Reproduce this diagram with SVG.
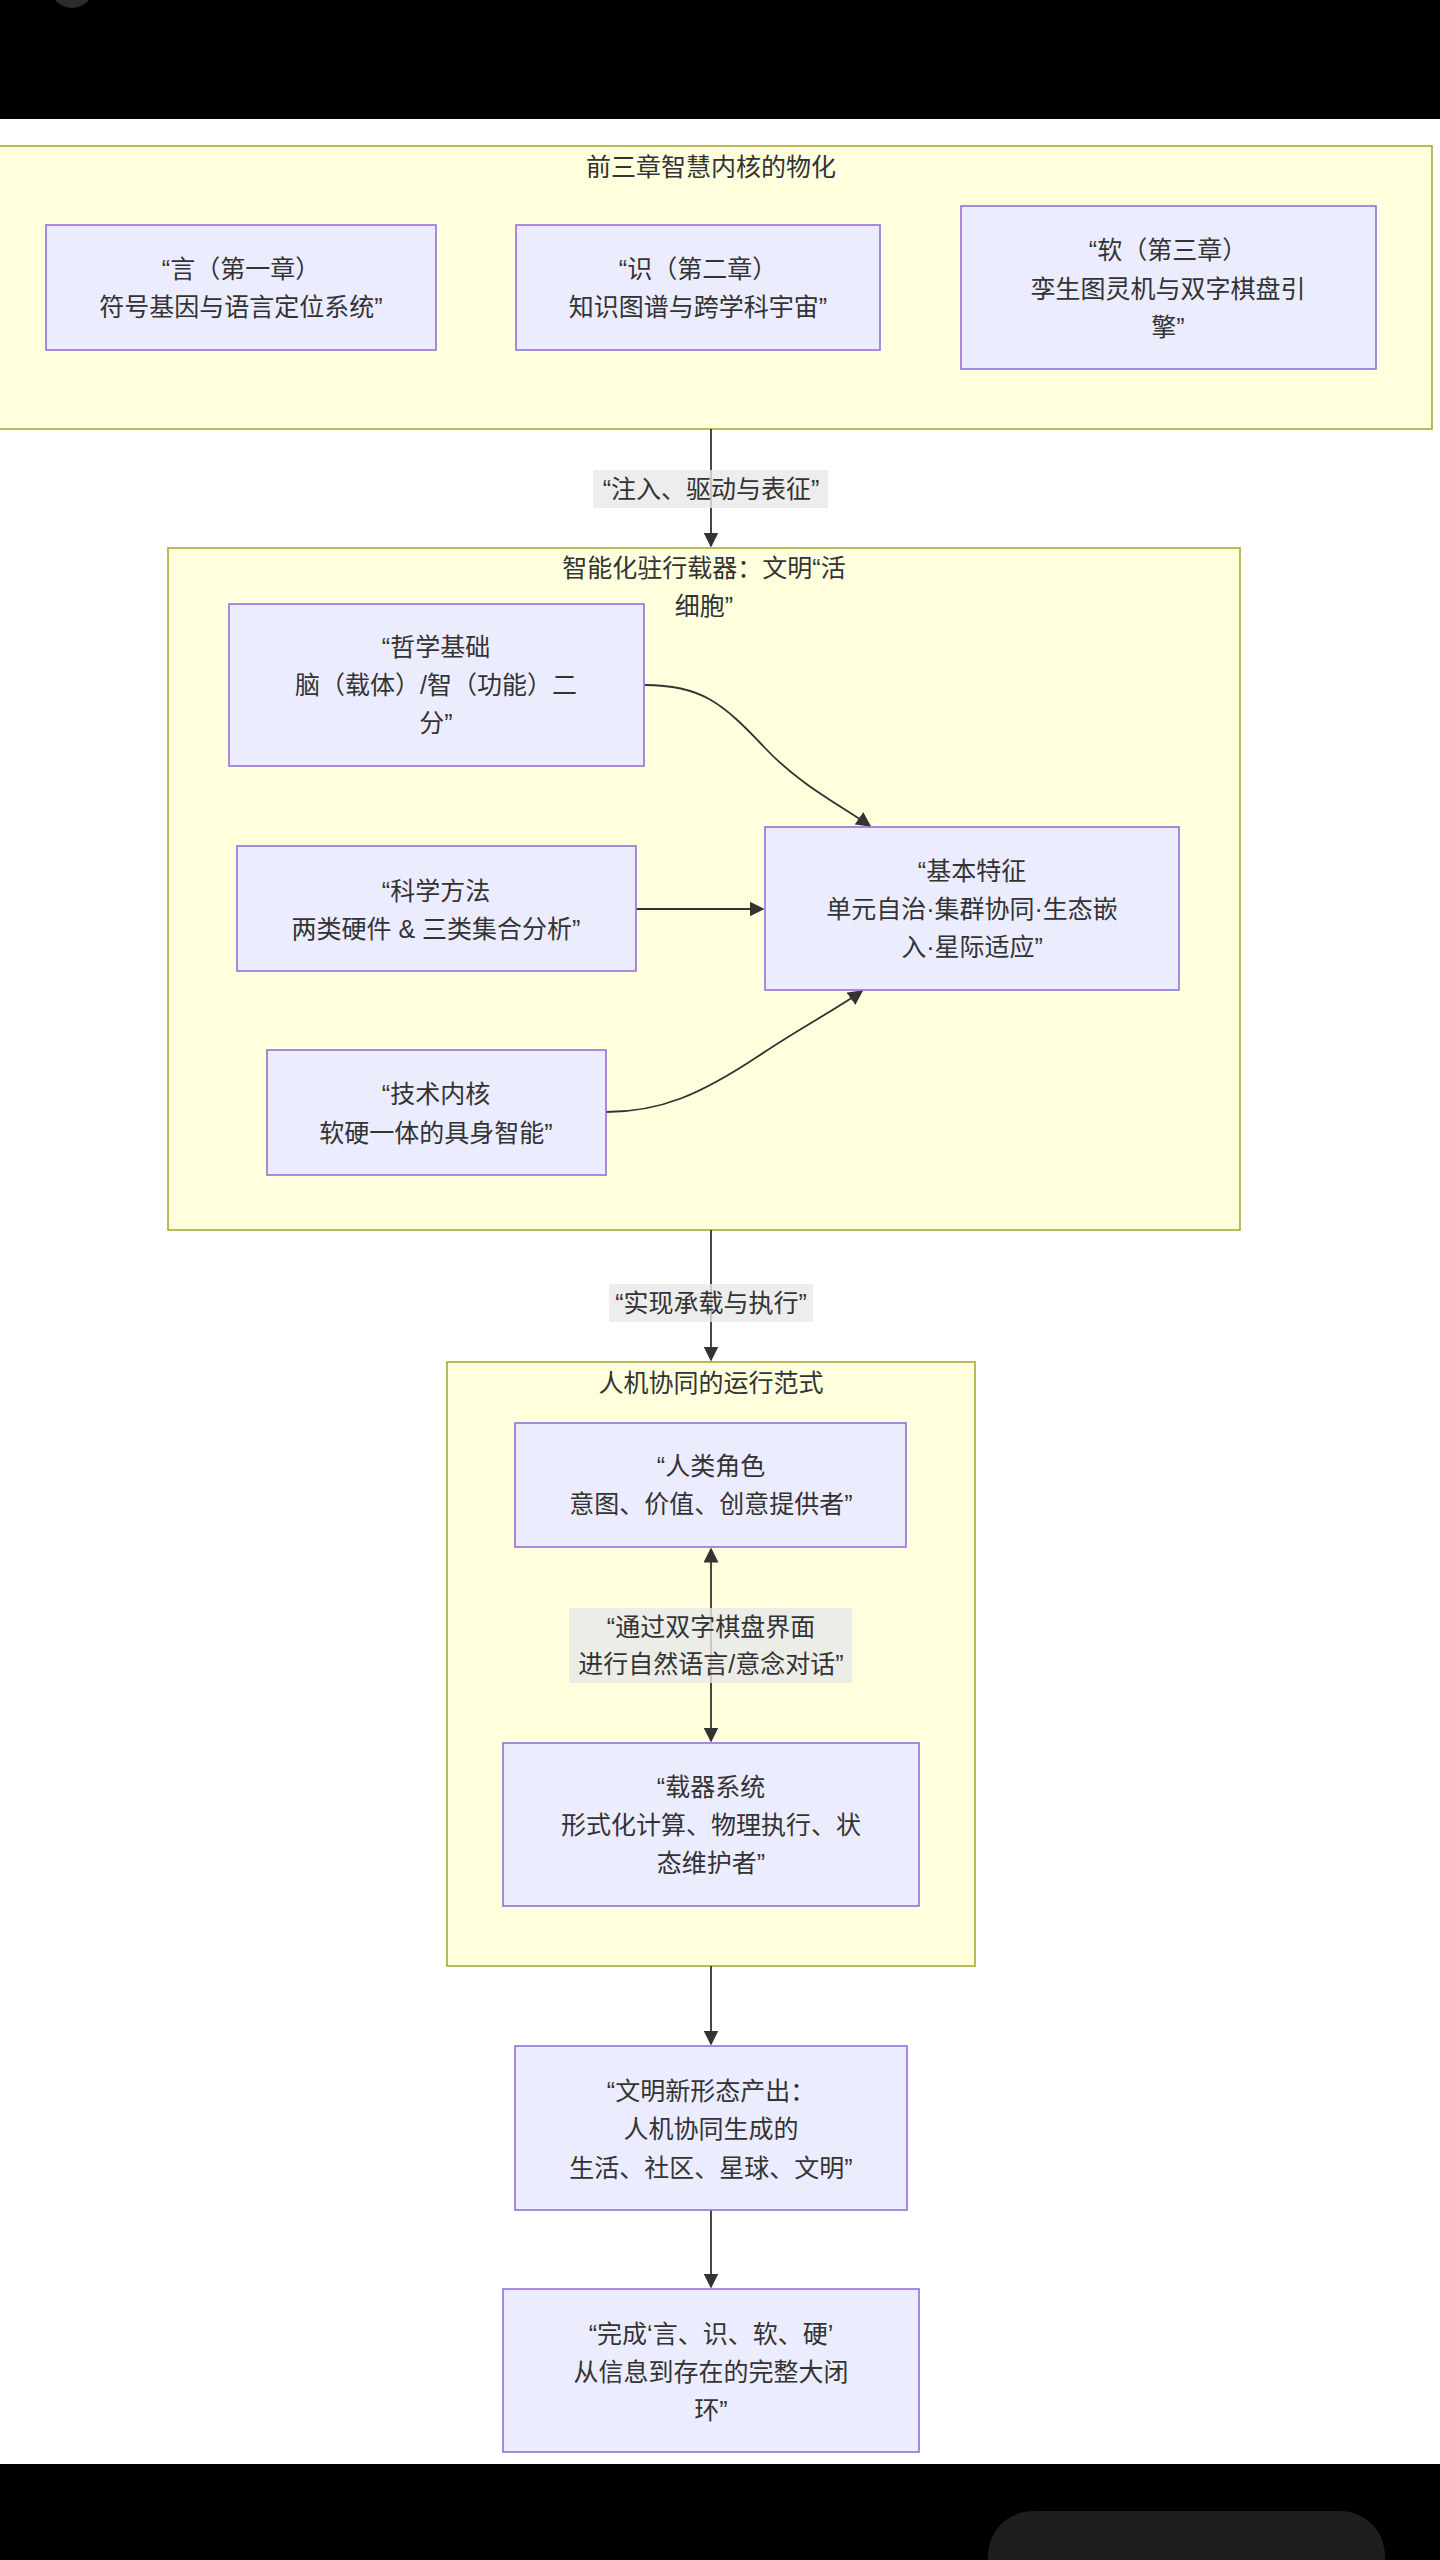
<svg xmlns="http://www.w3.org/2000/svg" width="1440" height="2560" viewBox="0 0 1440 2560">
<style>
.t{font-family:"Liberation Sans","Noto Sans CJK SC",sans-serif;font-size:25px;fill:#333;text-anchor:middle;dominant-baseline:central}
.cl{fill:#ffffde;stroke:#aaaa33;stroke-width:1.6}
.nd{fill:#ececff;stroke:#9370db;stroke-width:1.6}
.ed{fill:none;stroke:#333;stroke-width:1.8}
.lb{fill:#e8e8e8;fill-opacity:0.8}
</style>
<defs>
<marker id="ah" viewBox="0 0 10 10" refX="9" refY="5" markerUnits="userSpaceOnUse" markerWidth="15" markerHeight="15" orient="auto-start-reverse">
<path d="M0,0 L10,5 L0,10 z" fill="#333"/>
</marker>
</defs>
<rect x="0" y="0" width="1440" height="2560" fill="#fff"/>
<rect x="0" y="0" width="1440" height="119" fill="#000"/>
<circle cx="72" cy="-14" r="22" fill="#2b2b2b"/>
<rect x="0" y="2464" width="1440" height="96" fill="#000"/>
<rect x="988" y="2511" width="397" height="90" rx="45" fill="#1e1e1e"/>

<g id="clusters">
<g id="cluster1"><rect class="cl" x="-10" y="146" width="1442" height="283"/><text class="t" x="711" y="167">前三章智慧内核的物化</text></g>
<g id="cluster2"><rect class="cl" x="168" y="548" width="1072" height="682"/><text class="t" x="704" y="568">智能化驻行载器：文明“活</text><text class="t" x="704" y="606">细胞”</text></g>
<g id="cluster3"><rect class="cl" x="447" y="1362" width="528" height="604"/><text class="t" x="711" y="1383">人机协同的运行范式</text></g>
</g>

<g id="connectors">
<path class="ed" d="M711,429 L711,546" marker-end="url(#ah)"/>
<path class="ed" d="M645,685 C700,685 722,702 765,748 C800,785 840,805 870,826" marker-end="url(#ah)"/>
<path class="ed" d="M636,909 L763,909" marker-end="url(#ah)"/>
<path class="ed" d="M606,1112 C660,1112 700,1095 760,1055 C800,1028 835,1010 862,991" marker-end="url(#ah)"/>
<path class="ed" d="M711,1230 L711,1360" marker-end="url(#ah)"/>
<path class="ed" d="M711,1549 L711,1741" marker-start="url(#ah)" marker-end="url(#ah)"/>
<path class="ed" d="M711,1966 L711,2044" marker-end="url(#ah)"/>
<path class="ed" d="M711,2210 L711,2287" marker-end="url(#ah)"/>
<g id="edge-labels">
<rect class="lb" x="593" y="470" width="235" height="38"/><text class="t" x="711" y="489">“注入、驱动与表征”</text>
<rect class="lb" x="609" y="1284" width="204" height="38"/><text class="t" x="711" y="1303">“实现承载与执行”</text>
<rect class="lb" x="569" y="1608" width="283" height="75"/><text class="t" x="711" y="1627">“通过双字棋盘界面</text><text class="t" x="711" y="1664">进行自然语言/意念对话”</text>
</g>
</g>

<g id="n-yan"><rect class="nd" x="46" y="225" width="390" height="125"/><text class="t" x="241" y="269">“言（第一章）</text><text class="t" x="241" y="307">符号基因与语言定位系统”</text></g>
<g id="n-shi"><rect class="nd" x="516" y="225" width="364" height="125"/><text class="t" x="698" y="269">“识（第二章）</text><text class="t" x="698" y="307">知识图谱与跨学科宇宙”</text></g>
<g id="n-ruan"><rect class="nd" x="961" y="206" width="415" height="163"/><text class="t" x="1168" y="250">“软（第三章）</text><text class="t" x="1168" y="289">孪生图灵机与双字棋盘引</text><text class="t" x="1168" y="327">擎”</text></g>

<g id="n-zhexue"><rect class="nd" x="229" y="604" width="415" height="162"/><text class="t" x="436" y="647">“哲学基础</text><text class="t" x="436" y="685">脑（载体）/智（功能）二</text><text class="t" x="436" y="723">分”</text></g>
<g id="n-kexue"><rect class="nd" x="237" y="846" width="399" height="125"/><text class="t" x="436" y="891">“科学方法</text><text class="t" x="436" y="929">两类硬件 &amp; 三类集合分析”</text></g>
<g id="n-jishu"><rect class="nd" x="267" y="1050" width="339" height="125"/><text class="t" x="436" y="1094">“技术内核</text><text class="t" x="436" y="1133">软硬一体的具身智能”</text></g>
<g id="n-jiben"><rect class="nd" x="765" y="827" width="414" height="163"/><text class="t" x="972" y="871">“基本特征</text><text class="t" x="972" y="909">单元自治·集群协同·生态嵌</text><text class="t" x="972" y="947">入·星际适应”</text></g>

<g id="n-renlei"><rect class="nd" x="515" y="1423" width="391" height="124"/><text class="t" x="711" y="1466">“人类角色</text><text class="t" x="711" y="1504">意图、价值、创意提供者”</text></g>
<g id="n-zaiqi"><rect class="nd" x="503" y="1743" width="416" height="163"/><text class="t" x="711" y="1787">“载器系统</text><text class="t" x="711" y="1825">形式化计算、物理执行、状</text><text class="t" x="711" y="1863">态维护者”</text></g>

<g id="n-wenming"><rect class="nd" x="515" y="2046" width="392" height="164"/><text class="t" x="711" y="2091">“文明新形态产出：</text><text class="t" x="711" y="2129">人机协同生成的</text><text class="t" x="711" y="2168">生活、社区、星球、文明”</text></g>
<g id="n-wancheng"><rect class="nd" x="503" y="2289" width="416" height="163"/><text class="t" x="711" y="2334">“完成‘言、识、软、硬’</text><text class="t" x="711" y="2372">从信息到存在的完整大闭</text><text class="t" x="711" y="2410">环”</text></g>
</svg>
